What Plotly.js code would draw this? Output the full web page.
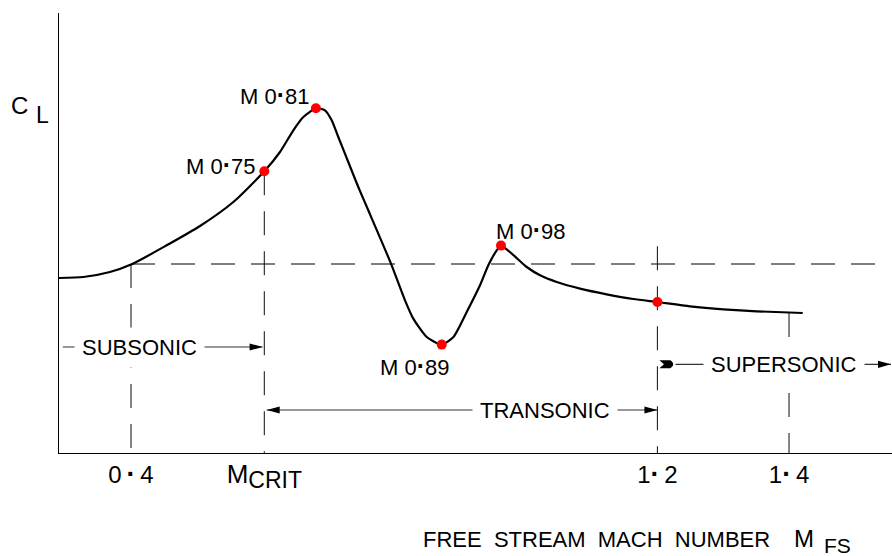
<!DOCTYPE html>
<html>
<head>
<meta charset="utf-8">
<script src="https://cdn.plot.ly/plotly-3.0.1.min.js"></script>
<style>html,body{margin:0;padding:0;background:#fff}#chart{width:892px;height:556px}</style>
</head>
<body>
<div id="chart"></div>
<script>
// ---- data (x: free stream Mach scale, y: C_L, arbitrary units) ----
const curveMach = [0.2906, 0.3275, 0.368, 0.401, 0.4543, 0.5049, 0.5555, 0.6026, 0.6264, 0.6467, 0.6619, 0.681,
  0.6948, 0.705, 0.715, 0.7302, 0.7454, 0.7606, 0.7758, 0.7951, 0.8164, 0.829, 0.8494, 0.8722, 0.89, 0.9102, 0.9304,
  0.943, 0.9558, 0.9623, 0.9786, 1.0014, 1.0216, 1.047, 1.0824, 1.1229, 1.1634, 1.2, 1.2495, 1.3002, 1.3509, 1.4208];
const curveCL = [1.75, 1.76, 1.81, 1.887, 2.077, 2.27, 2.51, 2.817, 3.01, 3.227, 3.36, 3.447,
  3.427, 3.327, 3.16, 2.91, 2.66, 2.427, 2.194, 1.894, 1.527, 1.344, 1.16, 1.084, 1.16, 1.41, 1.677,
  1.877, 2.027, 2.074, 1.994, 1.86, 1.777, 1.71, 1.644, 1.587, 1.54, 1.51, 1.467, 1.437, 1.417, 1.40];

const keyMach = [0.6026, 0.681, 0.8722, 0.9623, 1.2];
const keyCL = [2.817, 3.447, 1.084, 2.074, 1.51];
const DOT = '<b><span style="font-size:25px">·</span></b>';
const keyLabels = ['M 0' + DOT + '75', 'M 0' + DOT + '81', 'M 0' + DOT + '89', 'M 0' + DOT + '98'];
const keyLabelMach = [0.5368, 0.6184, 0.8312, 1.0076];
const keyLabelCL = [2.885, 3.582, 0.872, 2.235];

const guideLevel = 1.89;                 // dashed horizontal reference C_L
const guideLevelEnd = 1.532;
const vGuideMach = [0.4, 0.6026, 1.2, 1.4];
const vGuideTop = [1.89, 2.817, 2.067, 1.40];

const TDOT = '<b><span style="font-size:27px">·</span></b>';
const tickVals = [0.4, 0.6026, 1.2, 1.4];
const tickText = ['0\u2009' + TDOT + '\u20094',
  '<span style="font-size:26px">M</span><sub><span style="font-size:23px">CRIT</span></sub>',
  '1' + TDOT + '\u20092', '1' + TDOT + '\u20094'];

const regimeNames = ['SUBSONIC', 'TRANSONIC', 'SUPERSONIC'];
const regimeLabelMach = [0.4122, 1.0292, 1.3924];
const regimeRowCL = [1.06, 0.43, 0.887];
const regimeFrom = [0.2962, 0.6062, 1.2274];
const regimeTo = [0.6, 1.2, 1.555];

const FONT = 'Liberation Sans, Arial, sans-serif';
const traces = [];

// dashed guides
traces.push({x: [0.4, guideLevelEnd], y: [guideLevel, guideLevel], mode: 'lines',
  line: {color: '#555', width: 1.3, dash: '24px,16px'}, hoverinfo: 'skip', showlegend: false});
vGuideMach.forEach((m, i) => {
  traces.push({x: [m, m], y: [vGuideTop[i], 0], mode: 'lines',
    line: {color: '#222', width: 1.1, dash: '24px,16px'}, hoverinfo: 'skip', showlegend: false});
});

// lift curve
traces.push({x: curveMach, y: curveCL, mode: 'lines',
  line: {color: '#000', width: 2.2, shape: 'spline', smoothing: 0.6}, showlegend: false});
// key points
traces.push({x: keyMach, y: keyCL, mode: 'markers',
  marker: {color: '#ff0000', size: 10}, showlegend: false});

const shapes = [];
const annotations = [];

// regime arrows (lines + heads)
regimeNames.forEach((name, i) => {
  shapes.push({type: 'line', xref: 'x', yref: 'y', x0: regimeFrom[i], x1: regimeTo[i],
    y0: regimeRowCL[i], y1: regimeRowCL[i], line: {color: '#333', width: 1.2}, layer: 'above'});
});
function head(xa, ya, dir) {
  const p = dir > 0 ? 'M0,0 L-13,3.6 L-13,-3.6 Z' : 'M0,0 L13,3.6 L13,-3.6 Z';
  shapes.push({type: 'path', xref: 'x', yref: 'y', xsizemode: 'pixel', ysizemode: 'pixel',
    xanchor: xa, yanchor: ya, path: p, fillcolor: '#000', line: {width: 0}, layer: 'above'});
}
head(regimeTo[0], regimeRowCL[0], 1);
head(regimeFrom[1], regimeRowCL[1], -1);
head(regimeTo[1], regimeRowCL[1], 1);
head(regimeTo[2], regimeRowCL[2], 1);
// tail marker of supersonic arrow
shapes.push({type: 'path', xref: 'x', yref: 'y', xsizemode: 'pixel', ysizemode: 'pixel',
  xanchor: 1.2, yanchor: regimeRowCL[2], path: 'M2,-4 L13,-4 Q19,0 13,4 L2,4 L6.5,0 Z',
  fillcolor: '#000', line: {width: 0}, layer: 'above'});

regimeNames.forEach((name, i) => {
  annotations.push({x: regimeLabelMach[i], y: regimeRowCL[i], xref: 'x', yref: 'y', text: name,
    showarrow: false, xanchor: 'center', yanchor: 'middle', bgcolor: '#fff', borderpad: 7,
    font: {family: FONT, size: 22, color: '#000'}});
});

keyLabels.forEach((t, i) => {
  annotations.push({x: keyLabelMach[i], y: keyLabelCL[i], xref: 'x', yref: 'y', text: t,
    showarrow: false, xanchor: 'center', yanchor: 'middle',
    font: {family: FONT, size: 22, color: '#000'}});
});

// axis names
annotations.push({x: -0.0474, y: 0.7909, xref: 'paper', yref: 'paper', text: 'C', showarrow: false,
  xanchor: 'center', yanchor: 'middle', font: {family: FONT, size: 24, color: '#000'}});
annotations.push({x: -0.02, y: 0.769, xref: 'paper', yref: 'paper', text: 'L', showarrow: false,
  xanchor: 'center', yanchor: 'middle', font: {family: FONT, size: 23, color: '#000'}});
annotations.push({x: 0.645, y: -0.196, xref: 'paper', yref: 'paper',
  text: 'FREE\u00a0\u00a0STREAM\u00a0\u00a0MACH\u00a0\u00a0NUMBER', showarrow: false,
  xanchor: 'center', yanchor: 'middle', font: {family: FONT, size: 22, color: '#000'}});
annotations.push({x: 0.8944, y: -0.1948, xref: 'paper', yref: 'paper', text: 'M', showarrow: false,
  xanchor: 'center', yanchor: 'middle', font: {family: FONT, size: 24, color: '#000'}});
annotations.push({x: 0.934, y: -0.211, xref: 'paper', yref: 'paper', text: 'FS', showarrow: false,
  xanchor: 'center', yanchor: 'middle', font: {family: FONT, size: 21, color: '#000'}});

const layout = {
  width: 892, height: 556,
  margin: {l: 59, r: 0, t: 13, b: 103},
  paper_bgcolor: '#fff', plot_bgcolor: '#fff',
  showlegend: false,
  xaxis: {range: [0.29058, 1.5565], showgrid: false, zeroline: false, showline: true,
    linecolor: '#000', linewidth: 1, ticks: '', tickvals: tickVals, ticktext: tickText,
    tickfont: {family: FONT, size: 24, color: '#000'}, ticklabelstandoff: 0, fixedrange: true},
  yaxis: {range: [0, 4.4], showgrid: false, zeroline: false, showline: true,
    linecolor: '#000', linewidth: 1, ticks: '', showticklabels: false, fixedrange: true},
  shapes: shapes,
  annotations: annotations
};

Plotly.newPlot('chart', traces, layout, {displayModeBar: false, staticPlot: true});
</script>
</body>
</html>
